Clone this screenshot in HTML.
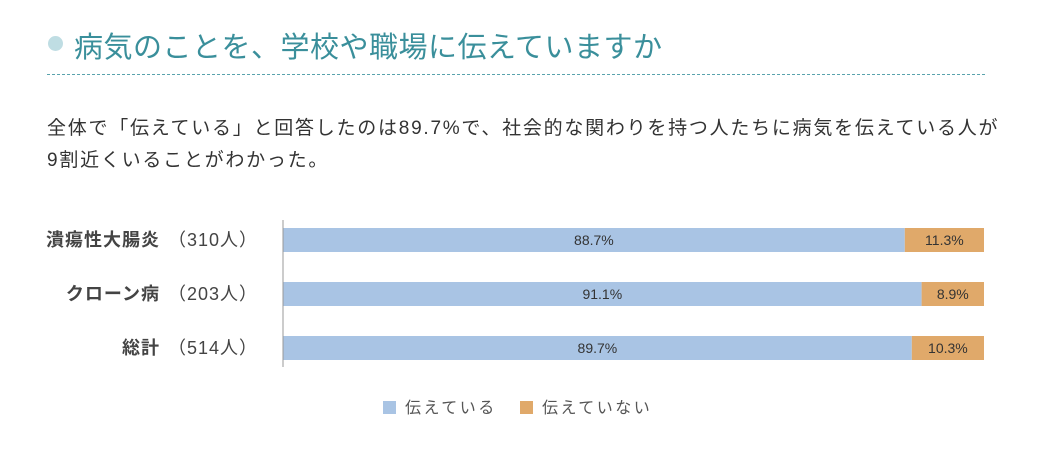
<!DOCTYPE html>
<html><head><meta charset="utf-8"><style>
body{margin:0;width:1039px;height:457px;background:#fff;font-family:"Liberation Sans","Noto Sans CJK JP",sans-serif;position:relative;overflow:hidden}
.t{position:absolute;white-space:nowrap}
</style></head><body>
<div style="position:absolute;left:48px;top:36px;width:15px;height:15px;border-radius:50%;background:#bfdde3"></div>
<div class="t" style="left:74px;top:24px;font-size:29px;color:#3a8f9b;letter-spacing:0.5px">病気のことを、学校や職場に伝えていますか</div>
<div style="position:absolute;left:47px;top:74px;width:938px;border-top:1px dashed #5aa3ad"></div>
<div class="t" style="left:47px;top:113px;font-size:19px;color:#333;line-height:32px;letter-spacing:1.75px">全体で「伝えている」と回答したのは89.7%で、社会的な関わりを持つ人たちに病気を伝えている人が<br>9割近くいることがわかった。</div>
<svg id="chart" width="1039" height="457" style="position:absolute;left:0;top:0"></svg>
<script>
const categories=["潰瘍性大腸炎","クローン病","総計"];
const counts=["（310人）","（203人）","（514人）"];
const told=[88.7,91.1,89.7];
const notTold=[11.3,8.9,10.3];
const seriesNames=["伝えている","伝えていない"];
const colors=["#a9c4e4","#e0a96a"];
const svg=document.getElementById('chart');const NS="http://www.w3.org/2000/svg";
const x0=283,x1=984;const xs=v=>x0+(x1-x0)*v/100;
const yTop=228,step=54,bh=24;const ys=i=>yTop+i*step;
function mk(tag,attrs,parent){const e=document.createElementNS(NS,tag);for(const k in attrs)e.setAttribute(k,attrs[k]);(parent||svg).appendChild(e);return e;}
categories.forEach((c,i)=>{
 const y=ys(i);
 const r1=mk('rect',{x:xs(0),y:y,width:xs(told[i])-xs(0),height:bh,fill:colors[0]});
 
 
 const r2=mk('rect',{x:xs(told[i]),y:y,width:xs(told[i]+notTold[i])-xs(told[i]),height:bh,fill:colors[1]});
 
 
 const t1=mk('text',{x:(xs(0)+xs(told[i]))/2,y:y+17,'text-anchor':'middle','font-size':14,fill:'#333'});t1.textContent=told[i].toFixed(1)+'%';
 
 
 const t2=mk('text',{x:(xs(told[i])+xs(told[i]+notTold[i]))/2,y:y+17,'text-anchor':'middle','font-size':14,fill:'#333'});t2.textContent=notTold[i].toFixed(1)+'%';
 
 
 const l=mk('text',{x:258,y:y+18,'text-anchor':'end','font-size':18,fill:'#444','letter-spacing':'1px'});
 
 
 const a=mk('tspan',{'font-weight':'bold'},l);a.textContent=categories[i];
 const b=mk('tspan',{dx:8},l);b.textContent=counts[i];
});
const ax=mk('line',{x1:x0,y1:220,x2:x0,y2:367,stroke:'#999','stroke-width':1});


const lx=[383,520];
seriesNames.forEach((n,i)=>{
 const r=mk('rect',{x:lx[i],y:401,width:13,height:13,fill:colors[i]});
 
 
 const t=mk('text',{x:lx[i]+22,y:413,'font-size':16,fill:'#555','letter-spacing':'2.5px'});t.textContent=n;
 
 
});
</script>
</body></html>
